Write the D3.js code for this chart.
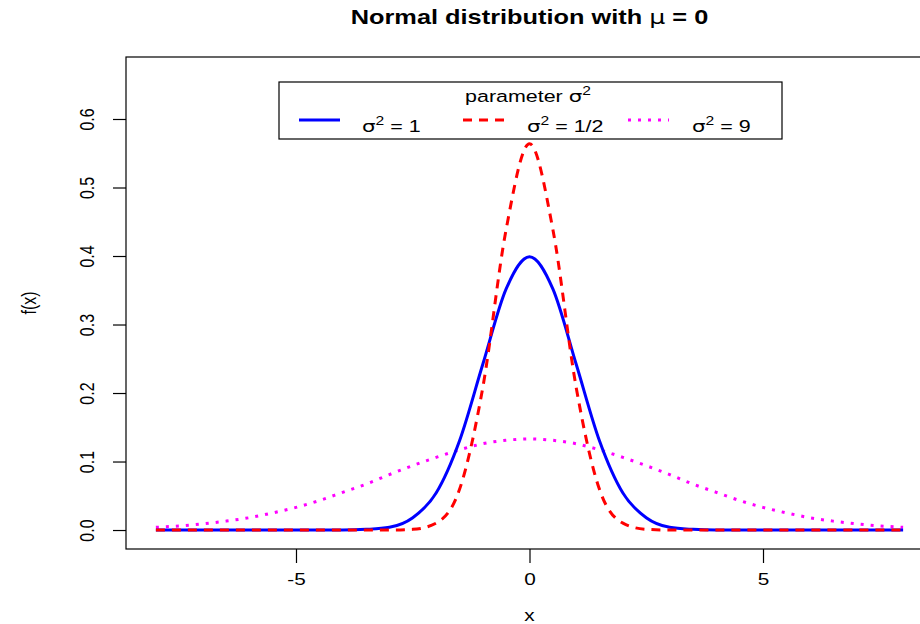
<!DOCTYPE html>
<html>
<head>
<meta charset="utf-8">
<script src="https://cdn.jsdelivr.net/npm/d3@7"></script>
<style>
  body { margin: 0; background: #fff; }
  svg { display: block; font-family: "Liberation Sans", Arial, sans-serif; }
</style>
</head>
<body>
<svg width="920" height="624"></svg>
<script>
// x grid (step 0.5) and density values
var xs = [-8, -7.5, -7, -6.5, -6, -5.5, -5, -4.5, -4, -3.5, -3, -2.5, -2, -1.5, -1, -0.5,
          0, 0.5, 1, 1.5, 2, 2.5, 3, 3.5, 4, 4.5, 5, 5.5, 6, 6.5, 7, 7.5, 8];
var var1 = [0, 0, 0, 0, 0, 0, 0, 0, 0, 0.001, 0.004, 0.018, 0.054, 0.130, 0.242, 0.352,
            0.399, 0.352, 0.242, 0.130, 0.054, 0.018, 0.004, 0.001, 0, 0, 0, 0, 0, 0, 0, 0, 0];
var varHalf = [0, 0, 0, 0, 0, 0, 0, 0, 0, 0, 0, 0.001, 0.010, 0.059, 0.208, 0.439,
               0.564, 0.439, 0.208, 0.059, 0.010, 0.001, 0, 0, 0, 0, 0, 0, 0, 0, 0, 0, 0];
var var9 = [0.004, 0.006, 0.009, 0.013, 0.018, 0.025, 0.033, 0.043, 0.055, 0.067, 0.081, 0.094, 0.106, 0.117, 0.126, 0.131,
            0.133, 0.131, 0.126, 0.117, 0.106, 0.094, 0.081, 0.067, 0.055, 0.043, 0.033, 0.025, 0.018, 0.013, 0.009, 0.006, 0.004];

var xTicks = [-5, 0, 5];
var yTicks = [0, 0.1, 0.2, 0.3, 0.4, 0.5, 0.6];
var legendLabels = ["= 1", "= 1/2", "= 9"];
var colors = ["#0000ff", "#ff0000", "#ff00ff"];
var dashes = [null, "9,7", "3,7"];

var svg = d3.select("svg");
var pLeft = 126, pTop = 57, pRight = 933, pBottom = 549;
var sx = 1.3;   // the picture is stretched sideways, text too

var xScale = d3.scaleLinear()
               .domain([-8.64, 8.64])
               .range([pLeft, pRight]);
var yScale = d3.scaleLinear()
               .domain([-0.0277, 0.6905])
               .range([pBottom, pTop]);

function stretched(x, y, rot) {
  return "translate(" + x + "," + y + ") scale(" + sx + ",1)" + (rot ? " rotate(" + rot + ")" : "");
}

// title
var title = svg.append("text")
   .attr("transform", stretched((pLeft + pRight) / 2, 24))
   .attr("text-anchor", "middle")
   .attr("font-size", 19.5)
   .attr("font-weight", "bold");
title.append("tspan").text("Normal distribution with ");
title.append("tspan").attr("font-family", "DejaVu Sans").attr("font-weight", "normal").text("\u03bc");
title.append("tspan").text(" = 0");

// axes
var x_axis = d3.axisBottom(xScale).tickValues(xTicks).tickSize(14)
               .tickFormat(function(d) { return d; });
var y_axis = d3.axisLeft(yScale).tickValues(yTicks).tickSize(13)
               .tickFormat(d3.format(".1f"));

var gx = svg.append("g")
   .attr("transform", "translate(0," + pBottom + ")")
   .call(x_axis);
gx.select(".domain").remove();
gx.selectAll("line").attr("stroke-width", 1.2);
gx.selectAll("text")
   .attr("font-size", 16).attr("fill", "#000").attr("font-family", "Liberation Sans")
   .attr("y", null).attr("dy", null)
   .attr("transform", stretched(0, 36));

var gy = svg.append("g")
   .attr("transform", "translate(" + pLeft + ",0)")
   .call(y_axis);
gy.select(".domain").remove();
gy.selectAll("line").attr("stroke-width", 1.2);
gy.selectAll("text")
   .attr("font-size", 16).attr("fill", "#000").attr("font-family", "Liberation Sans")
   .attr("text-anchor", "middle")
   .attr("x", 0).attr("dy", null)
   .attr("transform", stretched(-32, 0, -90));

// box
svg.append("rect")
   .attr("x", pLeft).attr("y", pTop)
   .attr("width", pRight - pLeft).attr("height", pBottom - pTop)
   .attr("fill", "none").attr("stroke", "#000").attr("stroke-width", 1.2);

// axis titles
svg.append("text")
   .attr("transform", stretched((pLeft + pRight) / 2, 621))
   .attr("text-anchor", "middle").attr("font-size", 16).text("x");
svg.append("text")
   .attr("transform", stretched(36, (pTop + pBottom) / 2, -90))
   .attr("text-anchor", "middle").attr("font-size", 16).text("f(x)");

// curves
var series = [var1, varHalf, var9];
var lineGenerator = d3.line()
   .x(function(d, i) { return xScale(xs[i]); })
   .y(function(d) { return yScale(d); })
   .curve(d3.curveMonotoneX);

var order = [2, 0, 1];
order.forEach(function(k) {
  svg.append("path")
     .attr("d", lineGenerator(series[k]))
     .attr("fill", "none")
     .attr("stroke", colors[k])
     .attr("stroke-width", 3)
     .attr("stroke-dasharray", dashes[k]);
});

// legend
var lg = svg.append("g");
lg.append("rect")
  .attr("x", 279).attr("y", 82).attr("width", 503).attr("height", 57)
  .attr("fill", "#fff").attr("stroke", "#000").attr("stroke-width", 1.2);

var lt = lg.append("text").attr("transform", stretched(528, 102))
  .attr("text-anchor", "middle").attr("font-size", 16.5);
lt.append("tspan").text("parameter ");
lt.append("tspan").attr("font-family", "DejaVu Sans").text("\u03c3");
lt.append("tspan").attr("font-size", 12).attr("dy", -7).text("2");

var segX = [299, 463, 628];
var textX = [362, 527, 692];
legendLabels.forEach(function(lab, i) {
  lg.append("line")
    .attr("x1", segX[i]).attr("x2", segX[i] + 41)
    .attr("y1", 120).attr("y2", 120)
    .attr("stroke", colors[i]).attr("stroke-width", 3)
    .attr("stroke-dasharray", dashes[i]);
  var t = lg.append("text").attr("transform", stretched(textX[i], 132)).attr("font-size", 16.5);
  t.append("tspan").attr("font-family", "DejaVu Sans").text("\u03c3");
  t.append("tspan").attr("font-size", 12).attr("dy", -7).text("2");
  t.append("tspan").attr("dy", 7).text(" " + lab);
});
</script>
</body>
</html>
